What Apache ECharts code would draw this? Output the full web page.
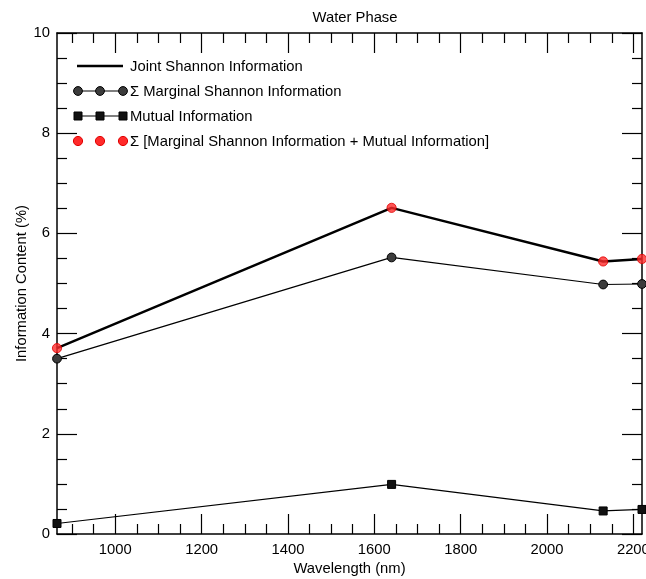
<!DOCTYPE html>
<html>
<head>
<meta charset="utf-8">
<script src="https://cdn.jsdelivr.net/npm/echarts@6/dist/echarts.min.js"></script>
<style>
html,body{margin:0;padding:0;background:#fff;}
#c{width:646px;height:579px;}
</style>
</head>
<body>
<div id="c"></div>
<script>
var wavelengths = [865, 1640, 2130, 2220];
var jointShannon = [3.71, 6.51, 5.44, 5.49];
var marginalShannon = [3.50, 5.52, 4.98, 4.99];
var mutualInfo = [0.21, 0.99, 0.46, 0.49];
var marginalPlusMutual = [3.71, 6.51, 5.44, 5.49];
var xMajorTicks = [1000, 1200, 1400, 1600, 1800, 2000, 2200];
var xMinorTicks = [900, 950, 1050, 1100, 1150, 1250, 1300, 1350, 1450, 1500, 1550, 1650, 1700, 1750, 1850, 1900, 1950, 2050, 2100, 2150];
var legendNames = ['Joint Shannon Information', '\u03A3 Marginal Shannon Information', 'Mutual Information', '\u03A3 [Marginal Shannon Information + Mutual Information]'];

function pairs(xs, ys){ return xs.map(function(x,i){ return [x, ys[i]]; }); }

var FONT = 'Liberation Sans, Arial, sans-serif';
var FS = 14.8;
var chart = echarts.init(document.getElementById('c'), null, {renderer:'canvas'});

function xAx(pos, ticks, len, showLabel, showLine, name){
  return {
    type:'value', position:pos, min:865, max:2220, gridIndex:0,
    name: name || '', nameLocation:'middle', nameGap:27,
    nameTextStyle:{color:'#000', fontSize:FS, fontFamily:FONT},
    axisLine:{show:showLine, onZero:false, lineStyle:{color:'#000', width:1.5}},
    axisTick:{show:true, inside:true, length:len, customValues:ticks, lineStyle:{color:'#000', width:1.2}},
    axisLabel:{show:showLabel, customValues:ticks, color:'#000', fontSize:FS, fontFamily:FONT, margin:8,
      formatter:function(v){ return String(v); }, hideOverlap:false},
    splitLine:{show:false}
  };
}
function yAx(pos, showLabel, name){
  return {
    type:'value', position:pos, min:0, max:10, interval:2,
    name: name || '', nameLocation:'middle', nameGap:28, nameMoveOverlap:false,
    nameTextStyle:{color:'#000', fontSize:FS, fontFamily:FONT},
    axisLine:{show:true, onZero:false, lineStyle:{color:'#000', width:1.5}},
    axisTick:{show:true, inside:true, length:20, lineStyle:{color:'#000', width:1.2}},
    minorTick:{show:true, splitNumber:4, length:10, lineStyle:{color:'#000', width:1.2}},
    axisLabel:{show:showLabel, color:'#000', fontSize:FS, fontFamily:FONT, margin:7},
    splitLine:{show:false}
  };
}

var legendY = [66, 91, 116, 141];
var gx = [78, 100, 123];
var graphics = [];
graphics.push({type:'line', shape:{x1:77, y1:legendY[0], x2:123, y2:legendY[0]}, style:{stroke:'#000', lineWidth:2.5}});
graphics.push({type:'line', shape:{x1:77, y1:legendY[1], x2:123, y2:legendY[1]}, style:{stroke:'#000', lineWidth:1.2}});
graphics.push({type:'line', shape:{x1:77, y1:legendY[2], x2:123, y2:legendY[2]}, style:{stroke:'#000', lineWidth:1.2}});
gx.forEach(function(x){
  graphics.push({type:'circle', shape:{cx:x, cy:legendY[1], r:4.4}, style:{fill:'#3c3c3c', stroke:'#000', lineWidth:1}});
  graphics.push({type:'rect', shape:{x:x-4, y:legendY[2]-4, width:8, height:8}, style:{fill:'#111', stroke:'#000', lineWidth:1}});
  graphics.push({type:'circle', shape:{cx:x, cy:legendY[3], r:4.6}, style:{fill:'#ff2a2a', stroke:'#e00000', lineWidth:1}});
});
legendNames.forEach(function(n,i){
  graphics.push({type:'text', x:130, y:legendY[i]+1, style:{text:n, fill:'#000', fontSize:FS, fontFamily:FONT, verticalAlign:'middle'}});
});

chart.setOption({
  animation:false,
  backgroundColor:'#fff',
  title:{text:'Water Phase', left:350, textAlign:'center', top:5, textStyle:{color:'#000', fontSize:FS, fontWeight:'normal', fontFamily:FONT}},
  grid:{left:57, right:4, top:33, bottom:45, containLabel:false, outerBoundsMode:'none'},
  xAxis:[
    xAx('bottom', xMajorTicks, 20, true, true, 'Wavelength (nm)'),
    xAx('bottom', xMinorTicks, 10, false, false),
    xAx('top', xMajorTicks, 20, false, true),
    xAx('top', xMinorTicks, 10, false, false)
  ],
  yAxis:[ yAx('left', true, 'Information Content (%)'), yAx('right', false) ],
  graphic: graphics,
  series:[
    {name:legendNames[2], type:'line', xAxisIndex:0, yAxisIndex:0, data:pairs(wavelengths, mutualInfo),
     symbol:'rect', symbolSize:8, lineStyle:{color:'#000', width:1.2}, itemStyle:{color:'#111', borderColor:'#000', borderWidth:1}, z:3},
    {name:legendNames[1], type:'line', xAxisIndex:0, yAxisIndex:0, data:pairs(wavelengths, marginalShannon),
     symbol:'circle', symbolSize:8.8, lineStyle:{color:'#000', width:1.2}, itemStyle:{color:'#3c3c3c', borderColor:'#000', borderWidth:1}, z:3},
    {name:legendNames[0], type:'line', xAxisIndex:0, yAxisIndex:0, data:pairs(wavelengths, jointShannon),
     showSymbol:false, symbol:'none', lineStyle:{color:'#000', width:2.5}, z:4},
    {name:legendNames[3], type:'scatter', xAxisIndex:0, yAxisIndex:0, data:pairs(wavelengths, marginalPlusMutual),
     symbol:'circle', symbolSize:9.2, itemStyle:{color:'#ff2a2a', borderColor:'#e00000', borderWidth:1}, z:5}
  ]
});
</script>
</body>
</html>
